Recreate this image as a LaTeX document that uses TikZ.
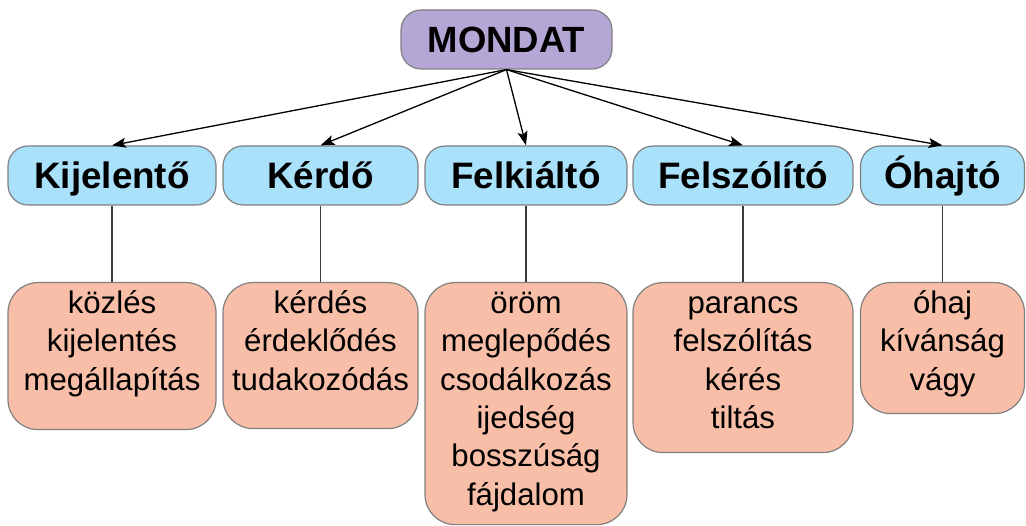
\documentclass[tikz,border=0pt]{standalone}
\usepackage{fontspec}
\setmainfont{Liberation Sans}
\usetikzlibrary{arrows.meta}
\definecolor{purplefill}{HTML}{B4A7D6}
\definecolor{bluefill}{HTML}{A9E0FA}
\definecolor{orangefill}{HTML}{F9BEA7}
\definecolor{bordergray}{HTML}{808080}
\definecolor{linegray}{HTML}{3A3A3A}
\newcommand{\olist}[3]{\parbox[c][#2pt][t]{#1pt}{\centering\fontsize{31.2}{38.3}\selectfont\rule{0pt}{31pt}#3}}
\tikzset{
  topbox/.style={draw=bordergray, fill=purplefill, line width=1.2pt, rounded corners=20pt,
    inner sep=0pt, minimum height=59pt, text height=26.5pt, text depth=0pt,
    font=\fontsize{36.5}{40}\selectfont\bfseries},
  typebox/.style={draw=bordergray, fill=bluefill, line width=1.2pt, rounded corners=20pt,
    inner sep=0pt, minimum height=59pt, text height=26.5pt, text depth=0pt,
    font=\fontsize{36.8}{40}\selectfont\bfseries},
  listbox/.style={draw=bordergray, fill=orangefill, line width=1.2pt, rounded corners=30pt,
    inner sep=0pt, anchor=north},
  arrowline/.style={draw=black, line width=1.3pt, -{Stealth[length=14pt,width=10pt,inset=3pt]}},
  stemline/.style={draw=linegray, line width=1.2pt}
}
\begin{document}
\begin{tikzpicture}[x=1pt,y=-1pt]
\useasboundingbox (0,0) rectangle (1026,526);
\node[topbox, minimum width=211pt] (M) at (506.5,39.5) {MONDAT};
\node[typebox, minimum width=208pt] (K1) at (112,175.5) {Kijelentő};
\node[typebox, minimum width=195pt] (K2) at (320.5,175.5) {Kérdő};
\node[typebox, minimum width=202pt] (K3) at (526,175.5) {Felkiáltó};
\node[typebox, minimum width=220pt] (K4) at (743,175.5) {Felszólító};
\node[typebox, minimum width=164pt] (K5) at (942.5,175.5) {Óhajtó};
\node[listbox] (O1) at (112,282) {\olist{208}{147}{közlés\\kijelentés\\megállapítás}};
\node[listbox] (O2) at (320.5,282) {\olist{195}{146}{kérdés\\érdeklődés\\tudakozódás}};
\node[listbox] (O3) at (526,282) {\olist{202}{242}{öröm\\meglepődés\\csodálkozás\\ijedség\\bosszúság\\fájdalom}};
\node[listbox] (O4) at (743,282) {\olist{220}{170}{parancs\\felszólítás\\kérés\\tiltás}};
\node[listbox] (O5) at (942.5,282) {\olist{164}{131}{óhaj\\kívánság\\vágy}};
\foreach \k in {K1,K2,K3,K4,K5} \draw[arrowline] (M.south) -- (\k.north);
\foreach \k/\o in {K1/O1,K2/O2,K3/O3,K4/O4,K5/O5} \draw[stemline] (\k.south) -- (\o.north);
\end{tikzpicture}
\end{document}
